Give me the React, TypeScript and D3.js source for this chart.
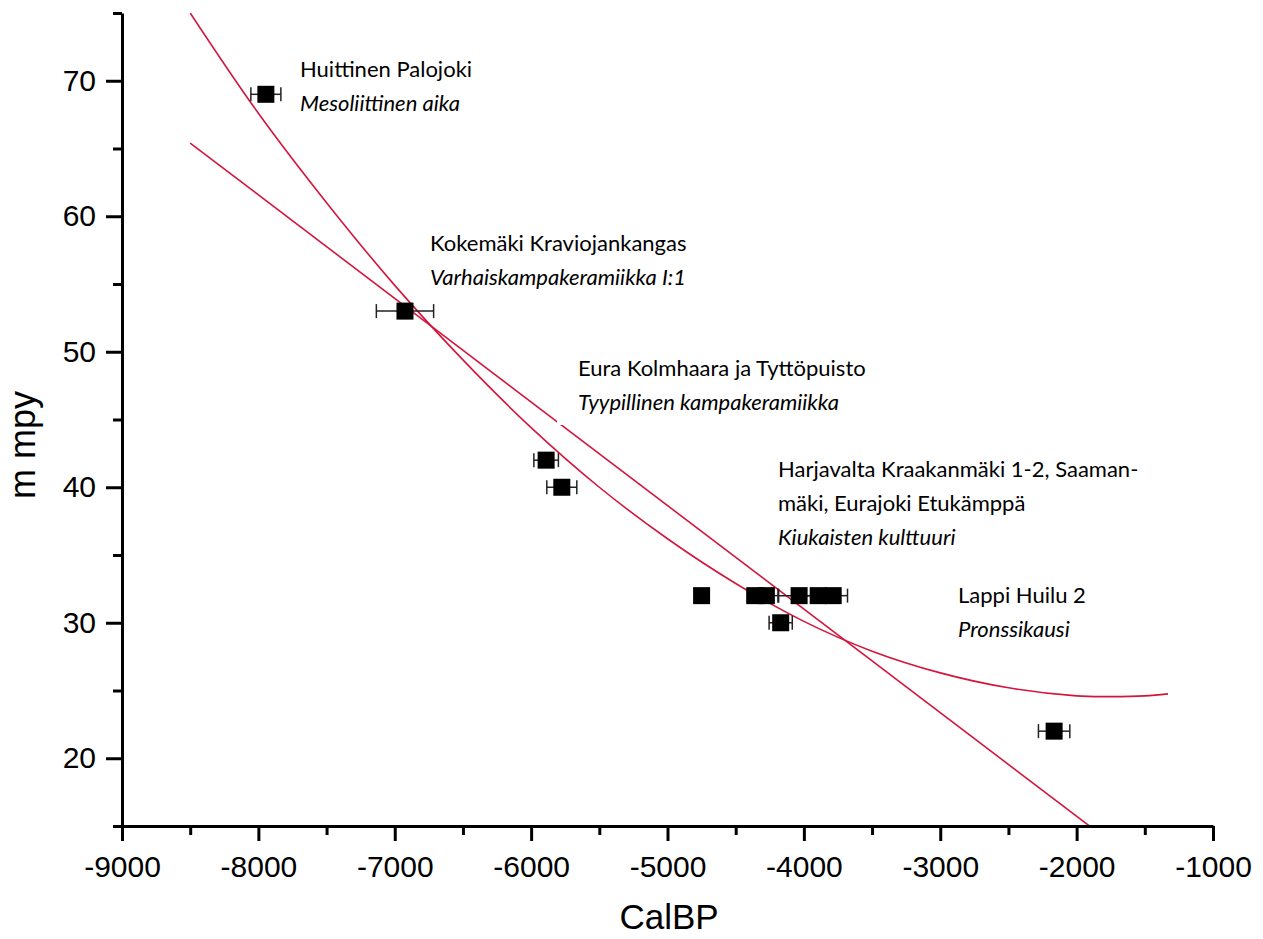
import React, { useEffect, useRef } from "react";
import * as d3 from "d3";

// dated sites: calibrated age (CalBP), height (m mpy) and +/- error of the age
const pointCalBP = [-7945, -6925, -5890, -5775, -4750, -4360, -4275, -4035, -3895, -3785, -4170, -2165];
const pointHeight = [69, 53, 42, 40, 32, 32, 32, 32, 32, 32, 30, 22];
const pointError = [110, 210, 90, 110, 40, 55, 85, 150, 100, 105, 85, 115];

// curved fit
const curveCalBP = [-8500, -8000, -7500, -7000, -6500, -6000, -5500, -5000, -4500, -4000, -3500, -3000, -2500, -2000, -1750, -1500, -1330];
const curveHeight = [75.0, 67.6, 61.0, 54.9, 49.4, 44.4, 40.0, 36.2, 32.9, 30.1, 27.9, 26.3, 25.2, 24.6, 24.55, 24.6, 24.75];

// straight fit
const lineCalBP = [-8500, -1330];
const lineHeight = [65.4, 10.6];

const xTicks = [-9000, -8000, -7000, -6000, -5000, -4000, -3000, -2000, -1000];
const xMinor = [-8500, -7500, -6500, -5500, -4500, -3500, -2500, -1500];
const yTicks = [20, 30, 40, 50, 60, 70];
const yMinor = [15, 25, 35, 45, 55, 65, 75];

const siteNames = [
  ["Huittinen Palojoki"],
  ["Kokemäki Kraviojankangas"],
  ["Eura Kolmhaara ja Tyttöpuisto"],
  ["Harjavalta Kraakanmäki 1-2, Saaman-", "mäki, Eurajoki Etukämppä"],
  ["Lappi Huilu 2"]
];
const periodNames = [
  "Mesoliittinen aika",
  "Varhaiskampakeramiikka I:1",
  "Tyypillinen kampakeramiikka",
  "Kiukaisten kulttuuri",
  "Pronssikausi"
];

function App() {
  const ref = useRef<SVGSVGElement>(null);

  useEffect(() => {
    drawChart();
  }, []);

  const drawChart = () => {
    const svg = d3.select(ref.current);
    svg.selectAll("*").remove();

    const axisFont = "Arial, 'Liberation Sans', sans-serif";
    const noteFont = "Lato, 'Open Sans', sans-serif";
    const red = "#d3163c";

    const x = d3.scaleLinear().domain([-9000, -1000]).range([122, 1213]);
    const y = d3.scaleLinear().domain([15, 75]).range([826, 13]);

    svg.append("rect").attr("width", 1263).attr("height", 939).attr("fill", "#fff");

    svg.append("clipPath").attr("id", "plot-clip")
      .append("rect")
      .attr("x", 122).attr("y", 13)
      .attr("width", 1213 - 122).attr("height", 826 - 13);

    // fitted curves
    const curveData = curveCalBP.map((c, i) => [c, curveHeight[i]] as [number, number]);
    const lineData = lineCalBP.map((c, i) => [c, lineHeight[i]] as [number, number]);

    const smooth = d3.line<[number, number]>()
      .x(d => x(d[0]))
      .y(d => y(d[1]))
      .curve(d3.curveCatmullRom);

    svg.append("path")
      .datum(curveData)
      .attr("d", smooth)
      .attr("fill", "none")
      .attr("stroke", red)
      .attr("stroke-width", 1.6)
      .attr("clip-path", "url(#plot-clip)");

    svg.append("path")
      .datum(lineData)
      .attr("d", d3.line<[number, number]>().x(d => x(d[0])).y(d => y(d[1])))
      .attr("fill", "none")
      .attr("stroke", red)
      .attr("stroke-width", 1.6)
      .attr("clip-path", "url(#plot-clip)");

    // annotation boxes (white background, like text boxes on top of the graph)
    const notePos = [[300, 77], [430, 251], [578, 376], [778, 477], [958, 603]];
    const lineGap = 34;

    const notes = svg.append("g");
    siteNames.forEach((names, i) => {
      const [nx, ny] = notePos[i];
      const lines = names.length + 1;
      notes.append("rect")
        .attr("x", nx - 21)
        .attr("y", ny - 31)
        .attr("width", 340)
        .attr("height", (lines - 1) * lineGap + 46)
        .attr("fill", "#fff");
    });

    // error bars
    const bars = svg.append("g").attr("stroke", "#222").attr("stroke-width", 1.5);
    pointCalBP.forEach((c, i) => {
      const x0 = x(c - pointError[i]);
      const x1 = x(c + pointError[i]);
      const yy = y(pointHeight[i]);
      bars.append("line").attr("x1", x0).attr("x2", x1).attr("y1", yy).attr("y2", yy);
      bars.append("line").attr("x1", x0).attr("x2", x0).attr("y1", yy - 7).attr("y2", yy + 7);
      bars.append("line").attr("x1", x1).attr("x2", x1).attr("y1", yy - 7).attr("y2", yy + 7);
    });

    // square markers
    const size = 17;
    svg.append("g")
      .selectAll("rect")
      .data(pointCalBP)
      .enter()
      .append("rect")
      .attr("x", (d) => x(d) - size / 2)
      .attr("y", (d, i) => y(pointHeight[i]) - size / 2)
      .attr("width", size)
      .attr("height", size)
      .attr("fill", "#000");

    // annotation text
    siteNames.forEach((names, i) => {
      const [nx, ny] = notePos[i];
      const t = notes.append("text")
        .attr("font-family", noteFont)
        .attr("font-size", 22)
        .attr("fill", "#000");
      names.forEach((n, j) => {
        t.append("tspan").attr("x", nx).attr("y", ny + j * lineGap).text(n);
      });
      t.append("tspan")
        .attr("x", nx)
        .attr("y", ny + names.length * lineGap)
        .attr("font-style", "italic")
        .text(periodNames[i]);
    });

    // X axis
    const xAxis = svg.append("g")
      .attr("transform", "translate(0,826)")
      .call(d3.axisBottom(x).tickValues(xTicks).tickSize(15).tickSizeOuter(0).tickFormat(d => String(d)));
    svg.append("g")
      .attr("transform", "translate(0,826)")
      .call(d3.axisBottom(x).tickValues(xMinor).tickSize(9).tickFormat(() => ""))
      .call(g => g.select(".domain").remove())
      .selectAll("line").attr("stroke-width", 3);

    xAxis.select(".domain").attr("stroke-width", 3);
    xAxis.selectAll("line").attr("stroke-width", 3);
    xAxis.selectAll("text")
      .attr("y", 51)
      .attr("dy", 0)
      .style("font-size", "30px")
      .style("font-family", axisFont)
      .attr("fill", "#000");

    // Y axis
    const yAxis = svg.append("g")
      .attr("transform", "translate(122,0)")
      .call(d3.axisLeft(y).tickValues(yTicks).tickSize(16).tickSizeOuter(0));
    svg.append("g")
      .attr("transform", "translate(122,0)")
      .call(d3.axisLeft(y).tickValues(yMinor).tickSize(9).tickFormat(() => ""))
      .call(g => g.select(".domain").remove())
      .selectAll("line").attr("stroke-width", 3);

    yAxis.select(".domain").attr("stroke-width", 3);
    yAxis.selectAll("line").attr("stroke-width", 3);
    yAxis.selectAll("text")
      .attr("x", -26)
      .attr("dy", "0.32em")
      .style("font-size", "30px")
      .style("font-family", axisFont)
      .attr("fill", "#000");

    // axis titles
    svg.append("text")
      .attr("x", 669)
      .attr("y", 929)
      .attr("text-anchor", "middle")
      .style("font-size", "35px")
      .style("font-family", axisFont)
      .text("CalBP");

    svg.append("text")
      .attr("transform", "translate(35,445) rotate(-90)")
      .attr("text-anchor", "middle")
      .style("font-size", "36px")
      .style("font-family", axisFont)
      .text("m mpy");
  };

  return (
    <svg
      ref={ref}
      width={1263}
      height={939}
      style={{ position: "absolute", left: 0, top: 0, display: "block" }}
    />
  );
}

export default App;
